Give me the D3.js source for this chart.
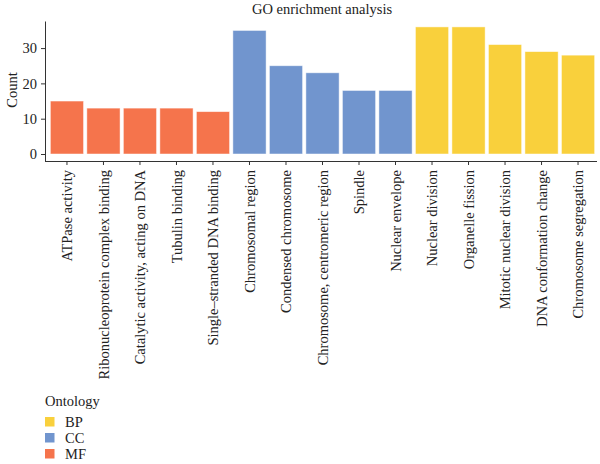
<!DOCTYPE html>
<html>
<head>
<meta charset="utf-8">
<script src="https://cdn.jsdelivr.net/npm/d3@7"></script>
<style>
  body { margin: 0; background: #fff; }
  text { font-family: "Liberation Serif", "DejaVu Serif", serif; fill: #222; }
</style>
</head>
<body>
<div id="chart"></div>
<script>
// data
var terms = ["ATPase activity", "Ribonucleoprotein complex binding", "Catalytic activity, acting on DNA",
  "Tubulin binding", "Single\u2013stranded DNA binding", "Chromosomal region", "Condensed chromosome",
  "Chromosome, centromeric region", "Spindle", "Nuclear envelope", "Nuclear division", "Organelle fission",
  "Mitotic nuclear division", "DNA conformation change", "Chromosome segregation"];
var counts = [15, 13, 13, 13, 12, 35, 25, 23, 18, 18, 36, 36, 31, 29, 28];
var ontology = ["MF", "MF", "MF", "MF", "MF", "CC", "CC", "CC", "CC", "CC", "BP", "BP", "BP", "BP", "BP"];
var legendKeys = ["BP", "CC", "MF"];
var yTicks = [0, 10, 20, 30];

var w = 600, h = 464;
var color = d3.scaleOrdinal()
  .domain(legendKeys)
  .range(["#f9d03c", "#7195ce", "#f5744c"]);

var svg = d3.select("#chart").append("svg")
  .attr("width", w).attr("height", h);

// scales
var x = d3.scaleBand()
  .domain(terms)
  .range([48.7, 596.3])
  .paddingInner(0.09)
  .paddingOuter(0.045);

var y = d3.scaleLinear()
  .domain([0, 37.5])
  .range([154, 21.6]);

// title
svg.append("text")
  .attr("x", 322).attr("y", 14)
  .attr("text-anchor", "middle")
  .attr("font-size", 14.5)
  .text("GO enrichment analysis");

// bars
svg.append("g").selectAll("rect")
  .data(terms)
  .enter().append("rect")
  .attr("x", function (d) { return x(d); })
  .attr("y", function (d, i) { return y(counts[i]); })
  .attr("width", x.bandwidth())
  .attr("height", function (d, i) { return y(0) - y(counts[i]); })
  .attr("fill", function (d, i) { return color(ontology[i]); })
  .attr("stroke", "#fff")
  .attr("stroke-opacity", 0.6)
  .attr("stroke-width", 0.8);

// y axis
var yAxis = svg.append("g")
  .attr("transform", "translate(45,0)")
  .call(d3.axisLeft(y).tickValues(yTicks).tickSize(4).tickSizeOuter(0));
yAxis.select(".domain").attr("d", "M0.5,21.5V161.5").attr("stroke", "#333");
yAxis.selectAll(".tick line").attr("stroke", "#333");
yAxis.selectAll("text").attr("font-size", 14.5).attr("fill", "#222").attr("x", -8);

// x axis
var xAxis = svg.append("g")
  .attr("transform", "translate(0,161)")
  .call(d3.axisBottom(x).tickSize(4).tickSizeOuter(0));
xAxis.select(".domain").attr("d", "M45,0.5H597").attr("stroke", "#333");
xAxis.selectAll(".tick line").attr("stroke", "#333");
xAxis.selectAll("text")
  .attr("font-size", 14.5)
  .attr("fill", "#222")
  .attr("text-anchor", "end")
  .attr("dy", "0.35em")
  .attr("transform", "translate(0,9) rotate(-90)")
  .attr("x", 0).attr("y", 0);

// y label
svg.append("text")
  .attr("transform", "translate(17,90) rotate(-90)")
  .attr("text-anchor", "middle")
  .attr("font-size", 14.5)
  .text("Count");

// legend
var lg = svg.append("g").attr("transform", "translate(45,0)");
lg.append("text")
  .attr("x", 0).attr("y", 406)
  .attr("font-size", 14.5)
  .text("Ontology");
var items = lg.selectAll("g.item")
  .data(legendKeys)
  .enter().append("g")
  .attr("class", "item")
  .attr("transform", function (d, i) { return "translate(0," + (417 + i * 16) + ")"; });
items.append("rect")
  .attr("width", 9.5).attr("height", 9.5)
  .attr("fill", function (d) { return color(d); });
items.append("text")
  .attr("x", 20).attr("y", 5)
  .attr("dy", "0.35em")
  .attr("font-size", 14.5)
  .text(function (d) { return d; });
</script>
</body>
</html>
